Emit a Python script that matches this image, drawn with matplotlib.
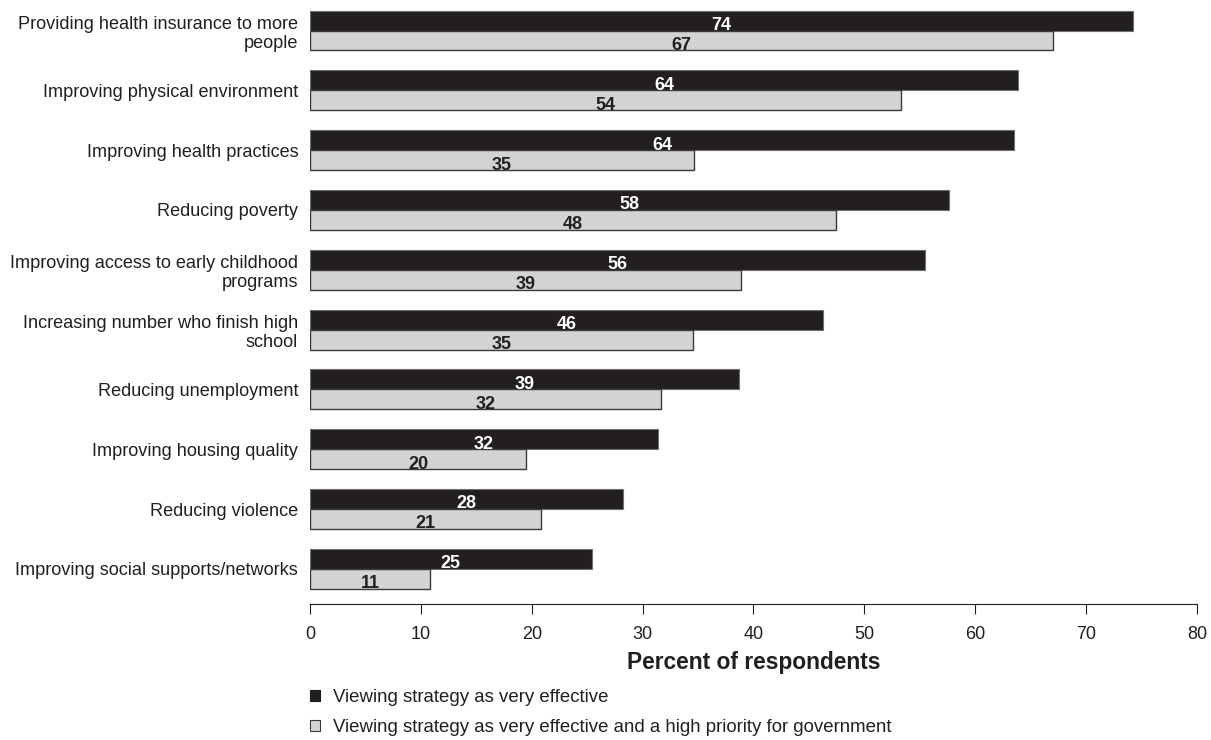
import numpy as np
import matplotlib.pyplot as plt
from matplotlib.patches import Patch

plt.rcParams['font.family'] = ['Liberation Sans', 'DejaVu Sans']

categories = ["Providing health insurance to more\npeople",
              "Improving physical environment",
              "Improving health practices",
              "Reducing poverty",
              "Improving access to early childhood\nprograms",
              "Increasing number who finish high\nschool",
              "Reducing unemployment",
              "Improving housing quality",
              "Reducing violence",
              "Improving social supports/networks"]

# bar lengths as drawn, and the rounded labels printed on them
effective = [74.2, 63.9, 63.5, 57.6, 55.5, 46.3, 38.7, 31.4, 28.2, 25.4]
priority = [67.0, 53.3, 34.6, 47.4, 38.9, 34.5, 31.7, 19.5, 20.8, 10.8]
effective_lbl = [74, 64, 64, 58, 56, 46, 39, 32, 28, 25]
priority_lbl = [67, 54, 35, 48, 39, 35, 32, 20, 21, 11]

legend_labels = ["Viewing strategy as very effective",
                 "Viewing strategy as very effective and a high priority for government"]

dark = '#231f20'
light = '#d1d3d4'

fig = plt.figure(figsize=(12.11, 7.40), dpi=100)
ax = fig.add_axes([0.256, 0.184, 0.7324, 0.816])

y = np.arange(len(categories))
h = 0.334

ax.barh(y - h / 2, effective, height=h, color=dark, edgecolor='#6d6e71', linewidth=0.8)
ax.barh(y + h / 2, priority, height=h, color=light, edgecolor='#3a3a3a', linewidth=1.0)

for i in range(len(categories)):
    ax.text(effective[i] / 2, y[i] - 0.01, str(effective_lbl[i]), color='white',
            ha='center', va='baseline', fontsize=13, fontweight='bold')
    ax.text(priority[i] / 2, y[i] + h - 0.01, str(priority_lbl[i]), color=dark,
            ha='center', va='baseline', fontsize=13, fontweight='bold')

ax.set_xlim(0, 80)
ax.set_ylim(9.585, -0.51)
ax.set_xticks(np.arange(0, 81, 10))
ax.set_yticks(y)
ax.set_yticklabels(categories, fontsize=13.1, color='#231f20')
ax.tick_params(axis='y', length=0, pad=8.5)
ax.tick_params(axis='x', labelsize=13, labelcolor='#231f20', length=7, color='#231f20', pad=9)
for s in ['top', 'right', 'left']:
    ax.spines[s].set_visible(False)
ax.spines['bottom'].set_color('#231f20')
ax.set_xlabel("Percent of respondents", fontsize=16.4, fontweight='bold',
              color='#231f20', labelpad=6)

handles = [Patch(facecolor=dark, edgecolor='#231f20', linewidth=0.8),
           Patch(facecolor=light, edgecolor='#3a3a3a', linewidth=0.8)]
fig.legend(handles, legend_labels, loc='upper left', bbox_to_anchor=(0.256, 0.069),
           frameon=False, fontsize=13.4, handlelength=0.54, handleheight=0.54,
           handletextpad=0.72, labelspacing=0.72, borderaxespad=0, borderpad=0,
           labelcolor='#231f20')

fig.savefig('out.png', dpi=100)
